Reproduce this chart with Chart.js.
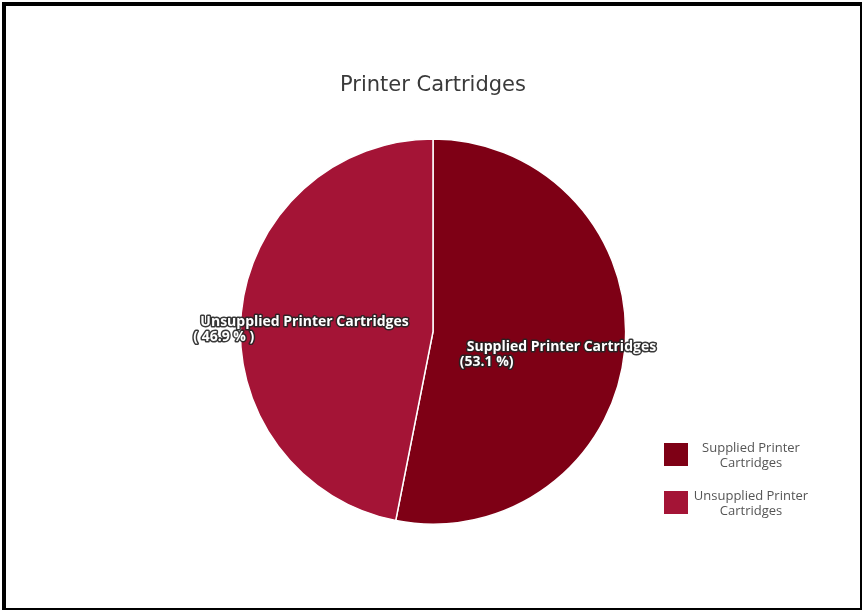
<!DOCTYPE html>
<html>
<head>
<meta charset="utf-8">
<script src="https://cdn.jsdelivr.net/npm/chart.js@4"></script>
<style>
  html, body { margin: 0; padding: 0; background: #fff; }
  #frame {
    position: absolute; left: 2px; top: 2px;
    width: 854px; height: 602px;
    border-top: 4px solid #000; border-left: 4px solid #000;
    border-right: 2px solid #000; border-bottom: 2px solid #000;
    background: #fff;
  }
  #wrap { position: relative; width: 854px; height: 602px; }
</style>
</head>
<body>
<div id="frame"><div id="wrap"><canvas id="myChart"></canvas></div></div>
<script>
var chartTitle = 'Printer Cartridges';
var categories = ['Supplied Printer Cartridges', 'Unsupplied Printer Cartridges'];
var legendLines = [['Supplied Printer', 'Cartridges'], ['Unsupplied Printer', 'Cartridges']];
var values = [53.1, 46.9];
var colors = ['#7e0015', '#a41436'];

// labels drawn inside the slices, white with a dark outline
var sliceLabels = {
    id: 'sliceLabels',
    afterDatasetsDraw: function(chart) {
        var ctx = chart.ctx;
        var meta = chart.getDatasetMeta(0);
        var total = values.reduce(function(a, b) { return a + b; }, 0);
        ctx.save();
        ctx.font = 'bold 14px "Open Sans"';
        ctx.textBaseline = 'middle';
        ctx.lineJoin = 'round';
        meta.data.forEach(function(arc, i) {
            var mid = (arc.startAngle + arc.endAngle) / 2;
            var r = arc.outerRadius * 0.67;
            var x = arc.x + Math.cos(mid) * r;
            var y = arc.y + Math.sin(mid) * r + 3;
            var pct = (values[i] / total * 100).toFixed(1);
            var line2 = i === 0 ? '(' + pct + ' %)' : '( ' + pct + ' % )';
            var w = ctx.measureText(categories[i]).width;
            var left = x - w / 2;
            ctx.textAlign = 'left';
            ctx.lineWidth = 3;
            ctx.strokeStyle = 'rgba(35,35,35,0.9)';
            ctx.fillStyle = '#fff';
            ctx.strokeText(categories[i], left, y);
            ctx.fillText(categories[i], left, y);
            ctx.strokeText(line2, left - 7, y + 15);
            ctx.fillText(line2, left - 7, y + 15);
        });
        ctx.restore();
    }
};

// legend in the lower right corner, wrapped over two lines
var cornerLegend = {
    id: 'cornerLegend',
    afterDraw: function(chart) {
        var ctx = chart.ctx;
        var bx = chart.width - 196;
        var by = chart.height - 165;
        ctx.save();
        ctx.font = '13px "Open Sans"';
        ctx.textAlign = 'center';
        ctx.textBaseline = 'middle';
        categories.forEach(function(c, i) {
            var y = by + i * 48;
            ctx.fillStyle = colors[i];
            ctx.fillRect(bx, y, 24, 23);
            ctx.fillStyle = '#555';
            ctx.fillText(legendLines[i][0], bx + 87, y + 5);
            ctx.fillText(legendLines[i][1], bx + 87, y + 20);
        });
        ctx.restore();
    }
};

var ctx = document.getElementById('myChart').getContext('2d');
var myChart = new Chart(ctx, {
    type: 'pie',
    data: {
        labels: categories,
        datasets: [{
            data: values,
            backgroundColor: colors,
            borderColor: '#ffffff',
            borderWidth: 1.5
        }]
    },
    options: {
        responsive: true,
        maintainAspectRatio: false,
        animation: false,
        layout: { padding: { top: 0, bottom: 83, left: 0, right: 0 } },
        plugins: {
            legend: { display: false },
            tooltip: { enabled: false },
            title: {
                display: true,
                text: chartTitle,
                color: '#3a3a3a',
                font: { family: '"DejaVu Sans"', size: 21, weight: 'normal' },
                padding: { top: 67, bottom: 40 }
            }
        }
    },
    plugins: [sliceLabels, cornerLegend]
});
</script>
</body>
</html>
